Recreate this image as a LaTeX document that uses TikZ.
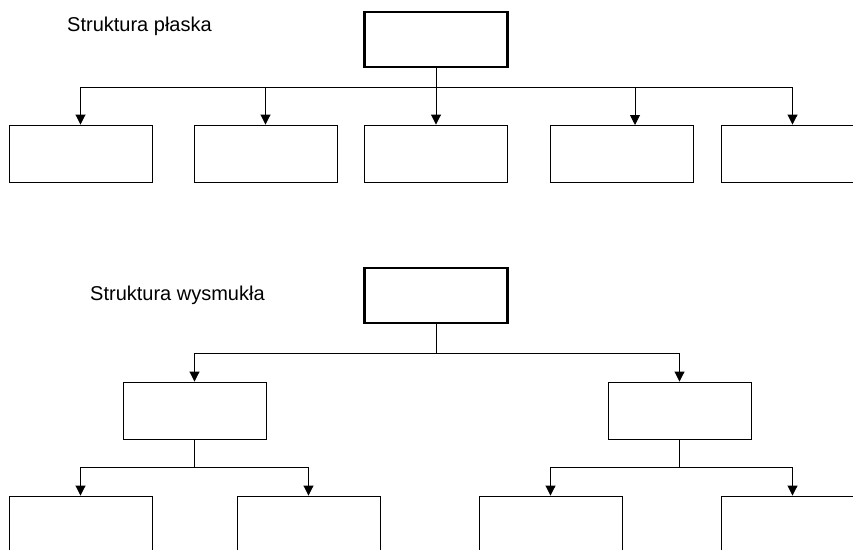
\documentclass[tikz,border=0pt]{standalone}
\usepackage{fontspec}
\setmainfont{Liberation Sans}
\usetikzlibrary{arrows.meta}

\begin{document}
\begin{tikzpicture}[x=1pt,y=-1pt,
  box/.style={draw,rectangle,minimum width=143pt,minimum height=57pt,inner sep=0pt,line width=0.9pt},
  rootbox/.style={box,minimum height=55pt,line width=2.8pt},
  arr/.style={-{Triangle[width=10pt,length=10pt]},line width=0.9pt},
  lbl/.style={anchor=west,inner sep=0pt,font=\fontsize{20}{24}\selectfont}]
\clip (0,0) rectangle (853,549);
%\draw[step=50,gray,very thin] (0,0) grid (853,549);
% struktura plaska
\node[lbl] (t1) at (67,26) {Struktura płaska};
\node[rootbox] (r1) at (436,39.5) {};
\node[box] (b1) at (80.5,153.5) {};
\node[box] (b2) at (265.5,153.5) {};
\node[box] (b3) at (436,153.5) {};
\node[box] (b4) at (621.5,153.5) {};
\node[box] (b5) at (792.5,153.5) {};
\coordinate (bus1) at (436,87);
\coordinate (t4) at (635,125);
\draw[line width=0.9pt] (r1.south) -- (bus1);
\draw[arr] (bus1) -| (b1.north);
\draw[arr] (bus1) -| (b2.north);
\draw[arr] (bus1) -- (b3.north);
\draw[arr] (bus1) -| (t4);
\draw[arr] (bus1) -| (b5.north);
% struktura wysmukla
\node[lbl] (t2) at (90,295) {Struktura wysmukła};
\node[rootbox] (r2) at (436,295.5) {};
\node[box] (m1) at (194.5,410.5) {};
\node[box] (m2) at (679.5,410.5) {};
\node[box] (c1) at (80.5,524.5) {};
\node[box] (c2) at (308.5,524.5) {};
\node[box] (c3) at (550.5,524.5) {};
\node[box] (c4) at (792.5,524.5) {};
\coordinate (bus2) at (436,353);
\coordinate (bus3) at (194.5,467);
\coordinate (bus4) at (679.5,467);
\draw[line width=0.9pt] (r2.south) -- (bus2);
\draw[arr] (bus2) -| (m1.north);
\draw[arr] (bus2) -| (m2.north);
\draw[line width=0.9pt] (m1.south) -- (bus3);
\draw[arr] (bus3) -| (c1.north);
\draw[arr] (bus3) -| (c2.north);
\draw[line width=0.9pt] (m2.south) -- (bus4);
\draw[arr] (bus4) -| (c3.north);
\draw[arr] (bus4) -| (c4.north);
\end{tikzpicture}
\end{document}
